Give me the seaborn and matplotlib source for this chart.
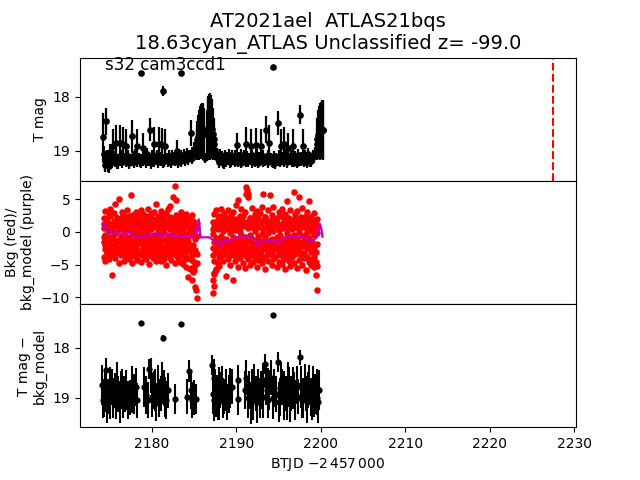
import matplotlib
matplotlib.use("Agg")
import matplotlib.pyplot as plt
import pandas as pd
import seaborn as sns

title_text = "AT2021ael  ATLAS21bqs\n18.63cyan_ATLAS Unclassified z= -99.0"
sector_text = "s32 cam3ccd1"
peak_time = 2227.45

# ---------------- top panel: T mag light curve ----------------
lc_time_o1 = [2174.2, 2174.4, 2174.6, 2174.8, 2175.0, 2175.2, 2175.4, 2175.6, 2175.8, 2176.0,
              2176.2, 2176.4, 2176.6, 2176.8, 2177.0, 2177.2, 2177.4, 2177.6, 2177.8, 2178.0,
              2178.2, 2178.4, 2178.6, 2178.8, 2179.0, 2179.2, 2179.4, 2179.6, 2179.8, 2180.0,
              2180.2, 2180.4, 2180.6, 2180.8, 2181.0, 2181.2, 2181.4, 2181.6, 2181.8, 2182.0,
              2182.2, 2182.4, 2182.6, 2182.8, 2183.0, 2183.2, 2183.4, 2183.6, 2183.8, 2184.0,
              2184.2, 2184.4, 2184.6, 2184.8, 2185.0]
lc_mag_o1 = [18.75, 19.18, 18.45, 19.22, 19.02, 19.15, 18.90, 19.10, 18.86, 19.20,
             18.86, 19.08, 18.88, 19.13, 18.90, 19.09, 19.14, 18.73, 19.10, 19.07,
             18.90, 19.12, 19.18, 19.13, 18.94, 19.10, 19.06, 19.12, 18.61, 19.09,
             18.88, 19.13, 19.08, 18.88, 19.11, 18.89, 19.17, 18.90, 19.12, 19.09,
             19.13, 19.08, 19.11, 19.16, 19.00, 19.10, 19.08, 19.12, 19.07, 19.10,
             19.05, 19.08, 18.67, 19.04, 18.98]
lc_err_o1 = [0.45, 0.18, 0.25, 0.16, 0.14, 0.12, 0.30, 0.10, 0.34, 0.14,
             0.34, 0.10, 0.32, 0.09, 0.30, 0.10, 0.08, 0.30, 0.10, 0.11,
             0.30, 0.09, 0.12, 0.08, 0.27, 0.10, 0.11, 0.09, 0.21, 0.10,
             0.32, 0.09, 0.10, 0.32, 0.09, 0.31, 0.12, 0.30, 0.09, 0.10,
             0.08, 0.10, 0.09, 0.12, 0.20, 0.09, 0.10, 0.09, 0.10, 0.10,
             0.11, 0.10, 0.24, 0.11, 0.14]

lc_time_o1b = [2174.3, 2174.5, 2174.7, 2174.9, 2175.1, 2175.3, 2175.5, 2175.7, 2175.9, 2176.1,
               2176.3, 2176.5, 2176.7, 2176.9, 2177.1, 2177.3, 2177.5, 2177.7, 2177.9, 2178.1,
               2178.3, 2178.5, 2178.7, 2178.9, 2179.1, 2179.3, 2179.5, 2179.7, 2179.9, 2180.1,
               2180.3, 2180.5, 2180.7, 2180.9, 2181.1, 2181.3, 2181.5, 2181.7, 2181.9, 2182.1,
               2182.3, 2182.5, 2182.7, 2182.9, 2183.1, 2183.3, 2183.5, 2183.7, 2183.9, 2184.1,
               2184.3, 2184.5, 2184.7, 2184.9]
lc_mag_o1b = [19.05, 19.25, 19.12, 19.28, 19.16, 19.20, 19.14, 19.19, 19.22, 19.15,
              19.18, 19.21, 19.13, 19.19, 19.16, 19.22, 19.14, 19.18, 19.20, 19.15,
              19.19, 19.13, 19.21, 19.17, 19.15, 19.20, 19.18, 19.14, 19.22, 19.16,
              19.19, 19.15, 19.21, 19.13, 19.18, 19.20, 19.16, 19.14, 19.19, 19.17,
              19.21, 19.15, 19.18, 19.13, 19.20, 19.16, 19.19, 19.14, 19.17, 19.12,
              19.15, 19.10, 19.13, 19.08]
lc_err_o1b = [0.15, 0.14, 0.13, 0.12, 0.10, 0.11, 0.09, 0.10, 0.11, 0.09,
              0.10, 0.11, 0.09, 0.10, 0.10, 0.11, 0.09, 0.10, 0.11, 0.09,
              0.10, 0.09, 0.11, 0.10, 0.09, 0.11, 0.10, 0.09, 0.11, 0.10,
              0.10, 0.09, 0.11, 0.09, 0.10, 0.11, 0.10, 0.09, 0.10, 0.10,
              0.11, 0.09, 0.10, 0.09, 0.11, 0.10, 0.10, 0.09, 0.10, 0.10,
              0.10, 0.11, 0.11, 0.12]

lc_time_edge = [2185.2, 2185.3, 2185.4, 2185.5, 2185.6, 2185.7, 2185.8, 2185.9, 2186.0, 2186.1,
                2186.2, 2186.35, 2186.5, 2186.6, 2186.7, 2186.8, 2186.9, 2187.0, 2187.1, 2187.2,
                2187.3, 2187.4, 2187.5]
lc_mag_edge = [18.95, 18.88, 18.80, 18.74, 18.70, 18.66, 18.64, 18.63, 18.64, 18.65,
               18.68, 19.13, 18.70, 18.60, 18.57, 18.55, 18.55, 18.56, 18.60, 18.68,
               18.78, 18.88, 18.98]
lc_err_edge = [0.20, 0.28, 0.35, 0.41, 0.46, 0.49, 0.51, 0.52, 0.52, 0.50,
               0.48, 0.09, 0.45, 0.55, 0.59, 0.60, 0.61, 0.59, 0.55, 0.48,
               0.38, 0.28, 0.18]

lc_time_o2 = [2187.7, 2187.9, 2188.1, 2188.3, 2188.5, 2188.7, 2188.9, 2189.1, 2189.3, 2189.5,
              2189.7, 2189.9, 2190.1, 2190.3, 2190.5, 2190.7, 2190.9, 2191.1, 2191.3, 2191.5,
              2191.7, 2191.9, 2192.1, 2192.3, 2192.5, 2192.7, 2192.9, 2193.1, 2193.3, 2193.5,
              2193.7, 2193.9, 2194.1, 2194.3, 2194.5, 2194.7, 2194.9, 2195.1, 2195.3, 2195.5,
              2195.7, 2195.9, 2196.1, 2196.3, 2196.5, 2196.7, 2196.9, 2197.1, 2197.3, 2197.5,
              2197.7, 2197.9, 2198.1, 2198.3, 2198.5, 2198.7, 2198.9, 2199.1, 2199.3]
lc_mag_o2 = [19.08, 19.12, 19.06, 19.10, 19.20, 19.08, 19.11, 19.07, 19.12, 19.09,
             19.13, 19.08, 18.89, 19.11, 19.07, 19.12, 19.09, 18.88, 19.10, 19.13,
             18.90, 19.08, 19.12, 18.89, 19.07, 19.11, 18.90, 19.09, 19.13, 18.61,
             19.08, 18.86, 19.12, 19.19, 19.10, 19.13, 18.49, 19.09, 18.90, 19.11,
             18.88, 19.07, 18.94, 19.12, 19.08, 18.90, 19.10, 19.13, 19.07, 18.33,
             19.11, 18.90, 19.09, 19.12, 19.06, 19.18, 19.13, 19.08, 19.05]
lc_err_o2 = [0.11, 0.10, 0.10, 0.09, 0.13, 0.10, 0.09, 0.10, 0.09, 0.10,
             0.08, 0.10, 0.22, 0.09, 0.10, 0.09, 0.10, 0.32, 0.10, 0.09,
             0.30, 0.10, 0.09, 0.31, 0.11, 0.09, 0.30, 0.10, 0.08, 0.25,
             0.10, 0.34, 0.09, 0.13, 0.10, 0.09, 0.22, 0.10, 0.30, 0.09,
             0.32, 0.10, 0.27, 0.09, 0.10, 0.30, 0.10, 0.09, 0.10, 0.18,
             0.09, 0.30, 0.10, 0.09, 0.11, 0.12, 0.09, 0.10, 0.12]

lc_time_o2b = [2187.8, 2188.0, 2188.2, 2188.4, 2188.6, 2188.8, 2189.0, 2189.2, 2189.4, 2189.6,
               2189.8, 2190.0, 2190.2, 2190.4, 2190.6, 2190.8, 2191.0, 2191.2, 2191.4, 2191.6,
               2191.8, 2192.0, 2192.2, 2192.4, 2192.6, 2192.8, 2193.0, 2193.2, 2193.4, 2193.6,
               2193.8, 2194.0, 2194.2, 2194.4, 2194.6, 2194.8, 2195.0, 2195.2, 2195.4, 2195.6,
               2195.8, 2196.0, 2196.2, 2196.4, 2196.6, 2196.8, 2197.0, 2197.2, 2197.4, 2197.6,
               2197.8, 2198.0, 2198.2, 2198.4, 2198.6, 2198.8, 2199.0, 2199.2]
lc_mag_o2b = [19.15, 19.20, 19.17, 19.22, 19.14, 19.19, 19.16, 19.21, 19.18, 19.13,
              19.20, 19.16, 19.19, 19.14, 19.22, 19.17, 19.15, 19.20, 19.18, 19.13,
              19.21, 19.16, 19.19, 19.15, 19.22, 19.17, 19.14, 19.20, 19.18, 19.16,
              19.21, 19.13, 19.19, 19.17, 19.22, 19.15, 19.18, 19.20, 19.14, 19.19,
              19.16, 19.21, 19.17, 19.13, 19.20, 19.18, 19.15, 19.22, 19.16, 19.19,
              19.14, 19.20, 19.17, 19.21, 19.15, 19.18, 19.13, 19.10]
lc_err_o2b = [0.10, 0.11, 0.09, 0.10, 0.10, 0.11, 0.09, 0.10, 0.11, 0.09,
              0.10, 0.09, 0.11, 0.10, 0.09, 0.11, 0.10, 0.09, 0.11, 0.10,
              0.10, 0.09, 0.11, 0.09, 0.10, 0.11, 0.10, 0.09, 0.10, 0.10,
              0.11, 0.09, 0.10, 0.09, 0.11, 0.10, 0.10, 0.09, 0.10, 0.10,
              0.10, 0.11, 0.09, 0.10, 0.10, 0.11, 0.09, 0.10, 0.11, 0.09,
              0.10, 0.09, 0.11, 0.10, 0.09, 0.11, 0.10, 0.12]

lc_time_end = [2199.4, 2199.5, 2199.6, 2199.7, 2199.8, 2199.9, 2200.0, 2200.1, 2200.2, 2200.3]
lc_mag_end = [19.00, 18.88, 18.78, 18.70, 18.66, 18.64, 18.62, 18.61, 18.61, 18.62]
lc_err_end = [0.15, 0.28, 0.38, 0.45, 0.49, 0.52, 0.53, 0.54, 0.55, 0.54]

lc_out_time = [2178.7, 2181.3, 2183.4, 2194.4]
lc_out_mag = [17.57, 17.89, 17.57, 17.46]
lc_out_err = [0.04, 0.09, 0.04, 0.04]

# ---------------- middle panel: background ----------------
bkg_time_o1 = [2174.3, 2174.5, 2174.7, 2174.9, 2175.1, 2175.3, 2175.5, 2175.7, 2175.9, 2176.1,
               2176.3, 2176.5, 2176.7, 2176.9, 2177.1, 2177.3, 2177.5, 2177.7, 2177.9, 2178.1,
               2178.3, 2178.5, 2178.7, 2178.9, 2179.1, 2179.3, 2179.5, 2179.7, 2179.9, 2180.1,
               2180.3, 2180.5, 2180.7, 2180.9, 2181.1, 2181.3, 2181.5, 2181.7, 2181.9, 2182.1,
               2182.3, 2182.5, 2182.7, 2182.9, 2183.1, 2183.3, 2183.5, 2183.7, 2183.9, 2184.1,
               2184.3, 2184.5, 2184.7, 2184.9, 2185.1, 2185.3]
bkg_time_o2 = [2187.2, 2187.4, 2187.6, 2187.8, 2188.0, 2188.2, 2188.4, 2188.6, 2188.8, 2189.0,
               2189.2, 2189.4, 2189.6, 2189.8, 2190.0, 2190.2, 2190.4, 2190.6, 2190.8, 2191.0,
               2191.2, 2191.4, 2191.6, 2191.8, 2192.0, 2192.2, 2192.4, 2192.6, 2192.8, 2193.0,
               2193.2, 2193.4, 2193.6, 2193.8, 2194.0, 2194.2, 2194.4, 2194.6, 2194.8, 2195.0,
               2195.2, 2195.4, 2195.6, 2195.8, 2196.0, 2196.2, 2196.4, 2196.6, 2196.8, 2197.0,
               2197.2, 2197.4, 2197.6, 2197.8, 2198.0, 2198.2, 2198.4, 2198.6, 2198.8, 2199.0,
               2199.2, 2199.4, 2199.6]

bkg_a = [2.1, 3.2, 1.6, 2.7, 3.5, 1.3, 2.9, 4.3, 2.2, 5.0,
         1.8, 3.0, 2.4, 1.4, 3.3, 2.0, 5.7, 2.6, 1.5, 3.1,
         2.3, 1.7, 3.4, 2.8, 1.2, 2.5, 3.6, 1.9, 2.7, 1.4,
         3.0, 4.3, 2.2, 1.6, 3.2, 2.6, 1.3, 2.9, 3.5, 4.0,
         2.1, 5.4, 7.0, 4.9, 2.4, 1.8, 3.1, 2.5, 1.5, 2.8,
         2.0, 1.2, 2.6, 1.7, 0.9, 1.4,
         1.5, 2.8, 3.3, 1.9, 2.5, 3.6, 1.4, 2.9, 2.1, 3.4,
         1.7, 2.6, 3.1, 2.0, 4.1, 4.9, 2.4, 3.5, 1.6, 3.0,
         6.9, 5.4, 2.2, 3.7, 1.8, 2.7, 3.2, 1.3, 2.9, 3.8,
         5.8, 2.3, 1.7, 3.3, 5.7, 2.6, 3.9, 2.0, 1.5, 3.1,
         2.4, 3.6, 1.9, 2.8, 4.8, 2.2, 3.4, 1.6, 6.2, 2.7,
         3.2, 5.4, 2.1, 3.7, 1.8, 2.5, 3.0, 4.8, 2.3, 1.7,
         2.9, 1.2, 2.0]
bkg_b = [0.6, -0.4, 1.1, 0.2, -0.7, 0.9, 0.0, -0.3, 1.2, 0.4,
         -0.6, 0.8, -0.1, 0.5, -0.8, 1.0, 0.3, -0.5, 0.7, -0.2,
         1.1, 0.1, -0.6, 0.6, -0.3, 0.9, 0.2, -0.7, 0.4, 1.0,
         -0.4, 0.7, 0.0, -0.5, 1.2, 0.3, -0.2, 0.8, -0.6, 0.5,
         1.1, -0.1, 0.6, -0.7, 0.2, 0.9, -0.4, 0.4, -0.3, 0.7,
         -0.8, 0.1, -0.5, 0.3, -1.0, -0.6,
         -0.3, 0.8, -0.9, 0.4, 1.1, -0.6, 0.2, 0.9, -1.1, 0.5,
         -0.2, 1.0, -0.7, 0.3, -1.0, 0.7, 0.0, -0.5, 1.2, -0.8,
         5.9, 0.6, -0.4, 0.9, -1.2, 0.1, 0.7, -0.6, 1.1, -0.3,
         0.4, -0.9, 0.8, -0.1, 0.5, -1.1, 0.2, 1.0, -0.7, 0.3,
         -0.4, 0.9, -1.0, 0.6, -0.2, 1.1, -0.8, 0.4, -0.5, 0.8,
         -1.2, 0.0, 0.7, -0.6, 1.0, -0.3, 0.5, -0.9, 0.2, 0.9,
         -0.5, 0.6, -0.1]
bkg_c = [-1.5, -2.6, -1.0, -2.2, -1.8, -2.9, -1.2, -2.4, -1.6, -2.8,
         -1.1, -2.0, -2.7, -1.4, -2.3, -0.9, -1.9, -2.6, -1.3, -2.1,
         -2.9, -1.7, -1.0, -2.5, -1.8, -2.2, -1.1, -2.8, -1.5, -2.0,
         -2.6, -1.3, -2.4, -1.7, -0.9, -2.3, -2.9, -1.4, -2.0, -1.1,
         -2.7, -1.6, -2.2, -1.2, -2.5, -1.8, -2.8, -1.0, -2.1, -2.9,
         -1.5, -2.4, -3.0, -2.0, -2.7, -3.3,
         -2.4, -1.6, -2.9, -1.3, -2.2, -3.1, -1.8, -2.6, -1.4, -2.0,
         -2.8, -1.5, -2.3, -3.0, -1.7, -2.5, -1.2, -2.1, -2.9, -1.9,
         -2.6, -1.4, -3.2, -2.0, -1.6, -2.7, -2.2, -1.3, -3.0, -1.8,
         -2.4, -1.5, -2.8, -2.1, -1.7, -2.9, -1.4, -2.5, -2.0, -3.1,
         -1.6, -2.3, -1.9, -2.7, -1.3, -2.2, -3.0, -1.8, -2.6, -1.5,
         -2.4, -2.9, -1.7, -2.1, -3.2, -1.4, -2.5, -2.0, -2.8, -1.6,
         -2.3, -3.0, -1.9]
bkg_d = [-3.8, -4.5, -3.1, -4.2, -3.5, -6.6, -3.3, -4.0, -3.0, -4.7,
         -3.6, -3.2, -4.4, -3.9, -2.9, -4.1, -3.4, -4.8, -3.7, -3.1,
         -4.3, -3.5, -4.6, -3.0, -3.9, -4.2, -3.3, -4.9, -3.6, -4.0,
         -3.2, -4.5, -3.8, -3.1, -4.4, -3.7, -4.1, -5.0, -3.4, -3.9,
         -4.3, -3.0, -4.7, -3.5, -4.0, -4.6, -3.3, -4.9, -4.2, -5.3,
         -6.9, -5.6, -7.4, -6.2, -8.4, -10.1,
         -7.4, -6.3, -5.6, -4.8, -5.2, -3.9, -4.5, -3.4, -6.8, -4.1,
         -5.0, -3.6, -7.3, -4.4, -3.8, -5.3, -4.0, -3.3, -4.7, -5.5,
         -3.7, -4.2, -5.1, -3.5, -4.6, -3.9, -5.4, -4.3, -3.2, -4.8,
         -4.0, -5.6, -3.6, -4.5, -3.4, -5.0, -4.2, -3.8, -5.3, -4.6,
         -3.5, -4.9, -4.1, -5.7, -3.7, -4.4, -5.2, -3.9, -4.7, -3.3,
         -5.5, -4.3, -3.6, -5.0, -4.0, -5.8, -3.8, -4.6, -5.1, -4.2,
         -5.4, -6.6, -8.9]
bkg_e = [1.3, 0.7, 2.0, 1.1, 2.4, 0.6, 1.7, 1.0, 2.2, 0.8,
         1.5, 2.3, 0.9, 1.8, 1.2, 2.5, 0.7, 1.4, 2.1, 1.0,
         1.6, 2.4, 0.8, 1.3, 1.9, 0.6, 2.2, 1.1, 1.7, 2.0,
         0.9, 1.5, 2.5, 1.2, 0.7, 1.8, 2.1, 1.0, 1.6, 2.3,
         0.8, 1.4, 1.9, 2.6, 1.1, 0.6, 1.7, 2.0, 1.3, 0.9,
         1.5, 0.4, 1.2, 0.7, 0.3, 0.8,
         0.5, 1.4, 0.9, 1.9, 1.2, 0.6, 2.1, 1.0, 1.7, 0.8,
         2.3, 1.3, 0.7, 1.8, 1.1, 2.0, 0.6, 1.5, 2.4, 0.9,
         1.6, 1.2, 2.2, 0.7, 1.4, 1.9, 0.8, 2.1, 1.3, 0.6,
         1.7, 2.3, 1.0, 1.5, 0.7, 2.0, 1.2, 1.8, 0.9, 2.4,
         1.1, 0.6, 1.6, 2.2, 1.3, 0.8, 1.9, 1.0, 1.4, 2.1,
         0.7, 1.5, 2.3, 1.1, 0.8, 1.7, 1.2, 2.0, 0.9, 1.4,
         0.6, 1.8, 1.0]
bkg_f = [-0.8, -2.0, -3.2, -1.4, -2.7, -1.0, -3.5, -1.8, -2.4, -1.2,
         -3.0, -1.6, -2.2, -3.4, -0.9, -2.6, -1.5, -3.1, -2.0, -1.1,
         -2.8, -1.7, -3.3, -1.3, -2.3, -0.8, -2.9, -1.9, -3.6, -1.4,
         -2.5, -1.0, -3.0, -2.1, -1.6, -3.4, -1.2, -2.7, -1.8, -3.2,
         -0.9, -2.4, -1.5, -3.1, -2.0, -1.3, -3.5, -2.6, -1.7, -3.8,
         -2.9, -4.2, -3.6, -4.5, -5.1, -4.8,
         -3.6, -4.4, -3.1, -2.2, -3.8, -1.6, -2.9, -1.2, -3.4, -2.0,
         -1.5, -3.0, -2.5, -1.1, -3.5, -1.8, -2.7, -1.3, -3.2, -2.1,
         -1.6, -3.6, -2.4, -1.0, -2.9, -1.7, -3.3, -2.2, -1.4, -3.7,
         -1.9, -2.6, -1.2, -3.1, -2.3, -1.5, -3.5, -2.0, -1.3, -2.8,
         -1.8, -3.4, -2.5, -1.1, -3.0, -2.1, -1.6, -3.6, -2.4, -1.2,
         -2.9, -1.7, -3.3, -2.2, -1.4, -3.8, -2.0, -1.5, -3.1, -2.6,
         -3.9, -4.6, -5.2]
bkg_extra_time = [2185.2, 2185.0, 2184.6, 2187.2, 2187.4, 2191.3, 2191.4, 2187.3, 2187.6]
bkg_extra = [-8.9, -5.8, -5.5, -9.4, -8.3, 6.4, 5.9, -6.5, -5.8]

model_time = [2174.2, 2174.35, 2174.67, 2175.06, 2175.46, 2175.85, 2176.17, 2176.45, 2177.04, 2177.44,
              2177.83, 2178.43, 2179.02, 2179.42, 2179.62, 2180.21, 2180.61, 2181.0, 2181.6, 2181.99,
              2182.39, 2182.78, 2183.38, 2183.97, 2184.56, 2184.96, 2185.16, 2185.36, 2185.55, 2185.67,
              2185.79, 2186.86, 2187.14, 2187.53, 2187.81, 2188.05, 2188.32, 2188.72, 2189.12, 2189.51,
              2189.91, 2190.3, 2190.7, 2191.1, 2191.49, 2191.89, 2192.28, 2192.56, 2192.88, 2193.27,
              2193.67, 2194.07, 2194.46, 2194.86, 2195.25, 2195.65, 2196.04, 2196.52, 2197.03, 2197.43,
              2197.95, 2198.42, 2198.82, 2199.21, 2199.53, 2199.77, 2199.92, 2200.08, 2200.2]
model_val = [1.33, 1.07, 0.05, -0.10, -0.20, -0.20, -0.10, -0.46, -0.20, -0.05,
             -0.72, -0.61, -0.82, -0.61, -0.46, -0.31, -0.20, -0.61, -0.46, -0.20,
             -0.61, -0.46, -0.72, -0.61, -0.82, -0.46, -0.20, 0.82, 1.94, 0.31,
             -0.82, -0.82, -1.13, -1.38, -1.74, -2.0, -1.48, -1.38, -1.48, -1.13,
             -0.97, -0.72, -0.61, -0.82, -0.61, -0.97, -1.38, -2.0, -1.48, -1.13,
             -1.38, -1.48, -1.38, -1.64, -1.23, -0.97, -0.82, -0.72, -0.87, -0.72,
             -0.82, -1.13, -1.38, -1.13, -0.82, 0.31, 1.2, 0.31, -0.72]

# ---------------- bottom panel: T mag - bkg_model ----------------
sub_time = [2174.1, 2174.2, 2174.3, 2174.4, 2174.5, 2174.6, 2174.7, 2174.8, 2175.0, 2175.1,
            2175.3, 2175.4, 2175.6, 2175.8, 2175.9, 2176.0, 2176.2, 2176.3, 2176.5, 2176.6,
            2176.8, 2177.0, 2177.2, 2177.4, 2177.6, 2177.7, 2177.9, 2178.1, 2178.2, 2179.1,
            2179.3, 2179.5, 2179.7, 2179.9, 2180.0, 2180.2, 2180.4, 2180.5, 2180.7, 2180.9,
            2181.1, 2181.2, 2181.4, 2181.6, 2181.7, 2181.9, 2182.7, 2184.2, 2184.4, 2184.6,
            2184.8, 2185.0, 2185.2,
            2187.1, 2187.2, 2187.3, 2187.4, 2187.5, 2187.6, 2187.7, 2187.8, 2187.9, 2188.0,
            2188.1, 2188.3, 2188.4, 2188.6, 2188.8, 2188.9, 2189.1, 2189.3, 2189.5, 2190.2,
            2190.25, 2191.0, 2191.2, 2191.4, 2191.5, 2191.7, 2191.8, 2192.0, 2192.1, 2192.3,
            2192.5, 2192.6, 2192.8, 2192.9, 2193.1, 2193.2, 2193.4, 2193.5, 2193.7, 2193.8,
            2193.9, 2194.1, 2194.3, 2194.5, 2194.7, 2194.9, 2195.0, 2195.2, 2195.3, 2195.45,
            2195.6, 2195.7, 2195.9, 2196.0, 2196.1, 2196.25, 2196.4, 2196.5, 2196.7, 2196.85,
            2197.0, 2197.15, 2197.3, 2197.7, 2197.8, 2197.95, 2198.1, 2198.2, 2198.35, 2198.5,
            2198.65, 2198.8, 2198.95, 2199.1, 2199.25, 2199.35, 2199.5, 2199.6, 2199.7, 2199.8]
sub_mag = [18.75, 19.05, 19.00, 18.85, 18.92, 18.45, 19.10, 18.98, 19.05, 18.80,
           18.78, 19.00, 18.85, 19.05, 18.70, 18.92, 19.10, 18.85, 18.78, 18.98,
           18.92, 18.85, 19.05, 19.00, 18.78, 18.95, 18.92, 18.78, 19.05, 18.78,
           18.95, 19.05, 18.42, 18.55, 18.98, 18.85, 18.85, 19.10, 18.75, 19.00,
           18.92, 18.70, 18.80, 18.98, 19.05, 18.85, 19.02, 18.98, 18.46, 18.85,
           19.05, 19.00, 19.02,
           18.35, 18.92, 18.60, 19.05, 18.78, 18.98, 18.92, 19.10, 19.05, 18.80,
           18.85, 18.75, 19.00, 18.98, 18.85, 19.08, 18.92, 18.80, 18.78, 18.65,
           19.03, 18.85, 18.60, 19.00, 18.85, 19.10, 18.78, 19.05, 18.70, 18.92,
           19.08, 18.78, 19.00, 18.85, 18.65, 18.98, 18.32, 18.75, 18.78, 19.05,
           18.85, 18.60, 19.00, 18.80, 18.92, 18.28, 19.08, 18.98, 18.70, 18.78,
           19.05, 18.85, 18.92, 19.02, 18.65, 18.78, 19.10, 18.92, 18.80, 18.85,
           19.05, 18.75, 18.98, 18.78, 19.05, 19.00, 18.70, 18.92, 19.08, 18.85,
           18.75, 18.98, 19.10, 18.78, 19.02, 18.92, 18.80, 19.00, 19.08, 18.85]
sub_err = [0.40, 0.35, 0.38, 0.42, 0.36, 0.25, 0.40, 0.35, 0.38, 0.42,
           0.36, 0.40, 0.35, 0.38, 0.42, 0.36, 0.40, 0.38, 0.35, 0.42,
           0.36, 0.40, 0.38, 0.35, 0.42, 0.36, 0.40, 0.38, 0.35, 0.40,
           0.38, 0.36, 0.20, 0.35, 0.40, 0.38, 0.42, 0.36, 0.40, 0.38,
           0.35, 0.42, 0.36, 0.40, 0.38, 0.35, 0.30, 0.35, 0.22, 0.38,
           0.36, 0.35, 0.30,
           0.20, 0.40, 0.38, 0.42, 0.36, 0.40, 0.38, 0.35, 0.40, 0.42,
           0.36, 0.38, 0.40, 0.35, 0.42, 0.36, 0.38, 0.40, 0.35, 0.30,
           0.32, 0.38, 0.35, 0.40, 0.38, 0.42, 0.36, 0.40, 0.38, 0.35,
           0.42, 0.36, 0.40, 0.38, 0.35, 0.42, 0.20, 0.40, 0.38, 0.36,
           0.40, 0.35, 0.42, 0.38, 0.36, 0.20, 0.40, 0.38, 0.42, 0.36,
           0.40, 0.38, 0.35, 0.42, 0.36, 0.40, 0.38, 0.35, 0.42, 0.36,
           0.40, 0.38, 0.35, 0.42, 0.36, 0.40, 0.38, 0.35, 0.42, 0.36,
           0.40, 0.38, 0.35, 0.42, 0.36, 0.40, 0.38, 0.35, 0.42, 0.40]
sub_out_time = [2178.7, 2181.3, 2183.4, 2194.4, 2197.5]
sub_out_mag = [17.50, 17.80, 17.52, 17.34, 18.19]
sub_out_err = [0.04, 0.06, 0.04, 0.04, 0.15]

# ---------------- tables ----------------
lc = pd.DataFrame({
    "t": lc_time_o1b + lc_time_o2b + lc_time_o1 + lc_time_edge + lc_time_o2 + lc_time_end + lc_out_time,
    "mag": lc_mag_o1b + lc_mag_o2b + lc_mag_o1 + lc_mag_edge + lc_mag_o2 + lc_mag_end + lc_out_mag,
    "err": lc_err_o1b + lc_err_o2b + lc_err_o1 + lc_err_edge + lc_err_o2 + lc_err_end + lc_out_err,
})
bkg_times = bkg_time_o1 + bkg_time_o2
bkg = pd.concat(
    [pd.DataFrame({"t": bkg_times, "bkg": vals})
     for vals in (bkg_a, bkg_b, bkg_c, bkg_d, bkg_e, bkg_f)]
    + [pd.DataFrame({"t": bkg_extra_time, "bkg": bkg_extra})],
    ignore_index=True,
)
model = pd.DataFrame({"t": model_time, "bkg_model": model_val})
sub = pd.DataFrame({
    "t": sub_time + sub_out_time,
    "mag": sub_mag + sub_out_mag,
    "err": sub_err + sub_out_err,
})

fig, (ax1, ax2, ax3) = plt.subplots(3, 1, sharex=True, figsize=(6.4, 4.8), dpi=100)
fig.subplots_adjust(hspace=0)

# top
ax1.errorbar(lc["t"], lc["mag"], yerr=lc["err"], fmt="o", color="k",
             ms=3.8, elinewidth=1.6, capsize=0)
ax1.axvline(peak_time, color="r", ls="--", lw=1.5)
ax1.set_ylim(19.55, 17.28)
ax1.set_ylabel("T mag")
ax1.text(0.05, 0.9, sector_text, transform=ax1.transAxes, fontsize=12)
ax1.set_title(title_text, fontsize=14)

# middle
sns.scatterplot(data=bkg, x="t", y="bkg", color="r", s=22, linewidth=0,
                ax=ax2, legend=False)
sns.lineplot(data=model, x="t", y="bkg_model", color="m", linewidth=1.6,
             estimator=None, sort=False, ax=ax2)
ax2.set_ylim(-11.04, 7.85)
ax2.set_ylabel("Bkg (red)/\nbkg_model (purple)")

# bottom
ax3.errorbar(sub["t"], sub["mag"], yerr=sub["err"], fmt="o", color="k",
             ms=3.5, elinewidth=1.5, capsize=0)
ax3.set_ylim(19.59, 17.13)
ax3.set_ylabel("T mag \u2212\nbkg_model")
ax3.set_xlabel(r"BTJD $-2\,457\,000$")
ax3.set_xlim(2171.5, 2230.2)

for ax in (ax1, ax2):
    ax.tick_params(axis="x", which="both", bottom=False, labelbottom=False)
    ax.set_xlabel("")

fig.savefig("out.png", dpi=100)
